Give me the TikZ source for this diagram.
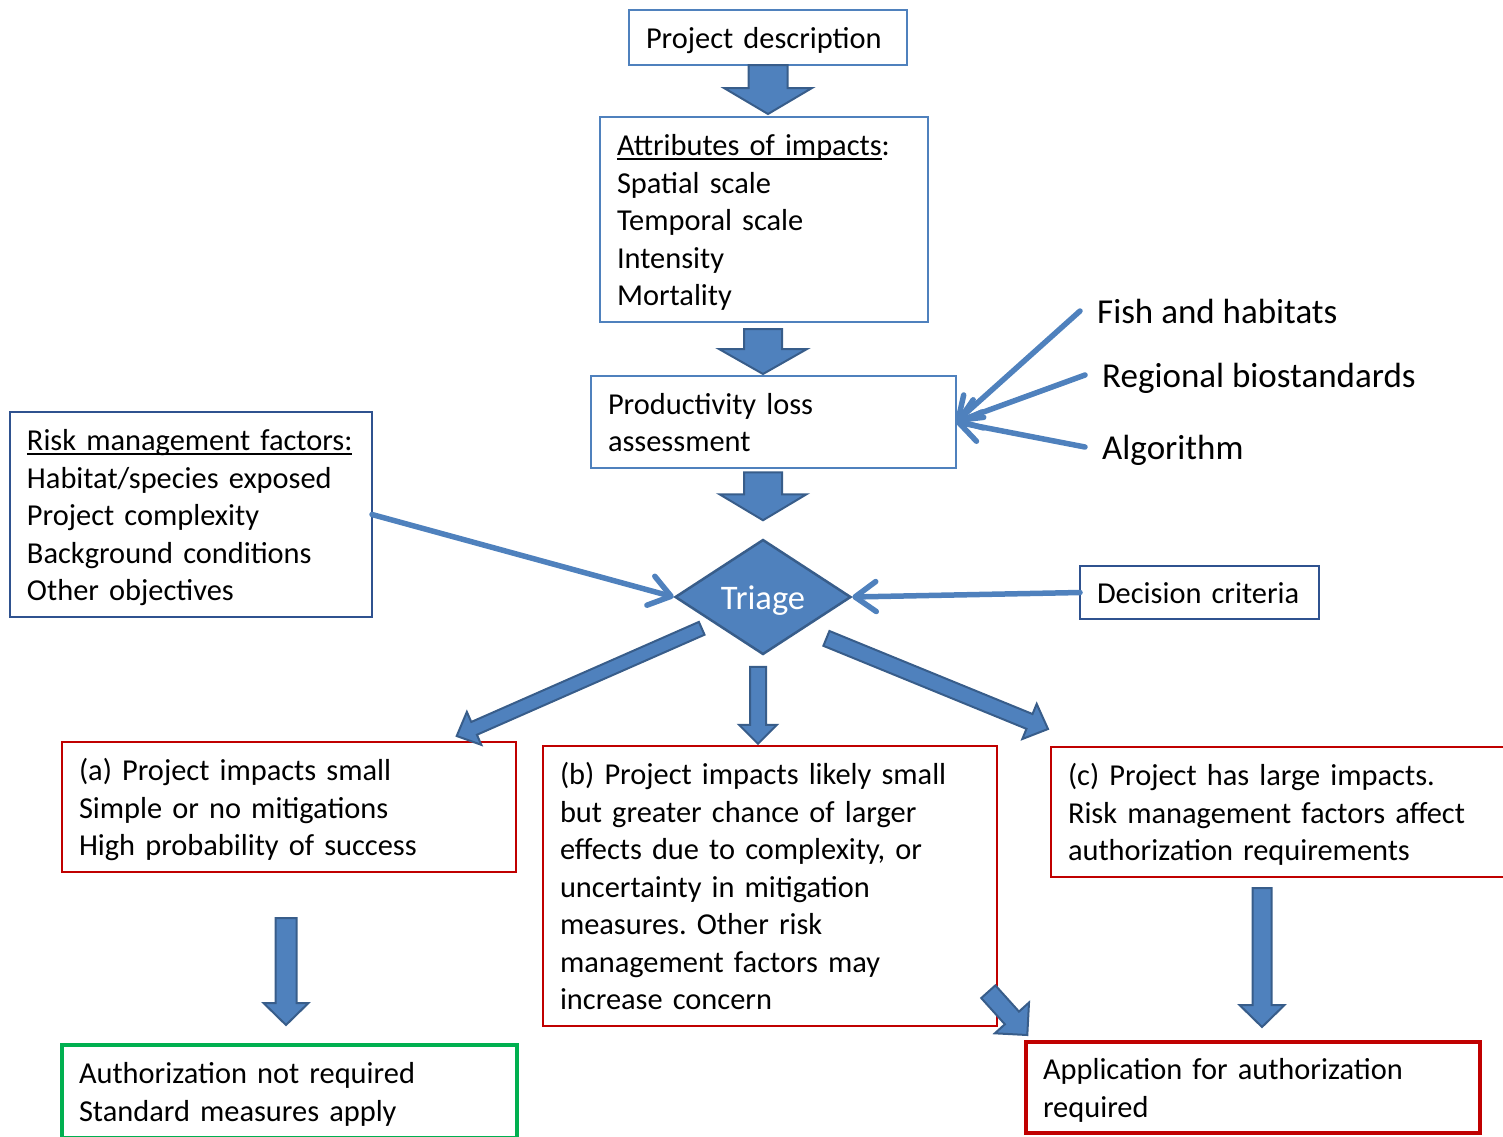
\documentclass[tikz,border=0pt]{standalone}
\usepackage{fontspec}
\setmainfont{Carlito}
\frenchspacing
\usetikzlibrary{shapes.geometric,arrows.meta,calc}
\definecolor{boxblue}{HTML}{4F81BD}
\definecolor{navyblue}{HTML}{2F528F}
\definecolor{arrfill}{HTML}{4F81BD}
\definecolor{arrdraw}{HTML}{385D8A}
\definecolor{boxred}{HTML}{C00000}
\definecolor{boxgreen}{HTML}{00B050}
\newcommand\myul[1]{\setbox0\hbox{#1}\rlap{\rule[-4pt]{\wd0}{1.3pt}}\box0}
\newcommand\ts{\rule{0pt}{30pt}}
\newcommand\bs{\rule[-8pt]{0pt}{8pt}}
\newcommand\fatarrow[5]{%
  \coordinate (fah) at ($(#2)!#5!(#1)$);
  \filldraw[fatarr] ($(#1)!#3!90:(#2)$) -- ($(fah)!#3!-90:(#1)$) -- ($(fah)!#4!-90:(#1)$) -- (#2)
    -- ($(fah)!#4!90:(#1)$) -- ($(fah)!#3!90:(#1)$) -- ($(#1)!#3!-90:(#2)$) -- cycle;}
\tikzset{
  box/.style={anchor=north west, align=left, inner xsep=17pt, inner ysep=0pt, outer sep=0pt,
    font=\fontsize{30.4}{37.5}\selectfont, line width=2pt},
  bluebox/.style={box, draw=boxblue},
  navybox/.style={box, draw=navyblue},
  redbox/.style={box, draw=boxred},
  fatarr/.style={fill=arrfill, draw=arrdraw, line width=2pt, line join=miter},
  thinarr/.style={draw=boxblue, line width=5.5pt, line cap=round,
    -{Straight Barb[length=21pt,width=30pt,round]}},
  lbl/.style={anchor=west, inner xsep=17pt, inner ysep=0pt, text height=33pt, text depth=8pt,
    font=\fontsize{35}{40}\selectfont},
  triage/.style={diamond, aspect=1.5, inner sep=0pt, minimum width=176pt, minimum height=115pt,
    text height=33pt, text depth=8pt,
    fill=arrfill, draw=arrdraw, line width=2.5pt, text=white, font=\fontsize{34.5}{40}\selectfont}
}
\begin{document}
\begin{tikzpicture}[x=1pt,y=-1pt]
\useasboundingbox (0,0) rectangle (1503,1136);
% boxes
\node[bluebox, minimum width=278pt, minimum height=55pt, text width=244pt] (pd) at (629,10) {\ts Project description\bs};
\node[bluebox, minimum width=328pt, minimum height=205pt, text width=294pt] (attr) at (600,117)
  {\ts\myul{Attributes of impacts}:\\Spatial scale\\Temporal scale\\Intensity\\Mortality\bs};
\node[bluebox, minimum width=365pt, minimum height=92pt, text width=331pt] (prod) at (591,376)
  {\ts Productivity loss\\assessment\bs};
\node[navybox, minimum width=362pt, minimum height=205pt, text width=328pt] (risk) at (10,412)
  {\ts\myul{Risk management factors:}\\Habitat/species exposed\\Project complexity\\Background conditions\\Other objectives\bs};
\node[navybox, minimum width=239pt, minimum height=53pt, text width=205pt] (dec) at (1080,566) {\ts Decision criteria\bs};
\node[triage] (tri) at (763,597) {Triage};
\node[redbox, minimum width=454pt, minimum height=130pt, text width=420pt] (a) at (62,742)
  {\ts(a) Project impacts small\\Simple or no mitigations\\High probability of success\bs};
\node[redbox, minimum width=454pt, minimum height=280pt, text width=420pt] (b) at (543,746)
  {\ts(b) Project impacts likely small\\but greater chance of larger\\effects due to complexity, or\\uncertainty in mitigation\\measures. Other risk\\management factors may\\increase concern\bs};
\node[redbox, minimum width=460pt, minimum height=130pt, text width=426pt] (c) at (1051,747)
  {\ts(c) Project has large impacts.\\Risk management factors affect\\authorization requirements\bs};
\node[box, draw=boxgreen, line width=3.5pt, minimum width=455pt, minimum height=93pt, text width=421pt] (auth) at (62,1045)
  {\ts Authorization not required\\Standard measures apply\bs};
\node[box, draw=boxred, line width=4pt, minimum width=454pt, minimum height=91pt, text width=420pt] (app) at (1026,1042)
  {\ts Application for authorization\\required\bs};
% labels
\node[lbl] (fish) at (1080,311) {Fish and habitats};
\node[lbl] (reg) at (1085,375) {Regional biostandards};
\node[lbl] (alg) at (1085,447) {Algorithm};
% thin arrows
\draw[thinarr] (fish.west) -- (prod.east);
\draw[thinarr] (reg.west) -- (prod.east);
\draw[thinarr] (alg.west) -- (prod.east);
\draw[thinarr] (risk.east) -- (tri.west);
\draw[thinarr] (dec.west) -- (tri.east);
% fat arrows
\coordinate (a1s) at (pd.south); \coordinate (a1e) at ($(pd.south)+(0,49)$);
\fatarrow{a1s}{a1e}{19.5pt}{44pt}{26pt}
\coordinate (a2s) at ($(attr.south)+(-1,7)$); \coordinate (a2e) at ($(attr.south)+(-1,52)$);
\fatarrow{a2s}{a2e}{19pt}{44pt}{25pt}
\coordinate (a3s) at ($(tri.north)+(0,-66)$); \coordinate (a3e) at ($(tri.north)+(0,-18)$);
\fatarrow{a3s}{a3e}{19pt}{43.5pt}{26pt}
\coordinate (a4s) at ($(tri.south)+(-5,11)$); \coordinate (a4e) at ($(tri.south)+(-5,88)$);
\fatarrow{a4s}{a4e}{8pt}{19pt}{19pt}
\coordinate (a5s) at ($(tri.center)+(63.4,41.4)$); \coordinate (a5e) at ($(c.north west)+(-3,-18)$);
\fatarrow{a5s}{a5e}{8pt}{19pt}{20pt}
\coordinate (a6s) at ($(tri.center)+(-61.3,31.3)$); \coordinate (a6e) at ($(a.north east)+(-59.3,-6)$);
\fatarrow{a6s}{a6e}{7pt}{18pt}{19pt}
\coordinate (a7s) at ($(a.south)+(-3,46)$); \coordinate (a7e) at ($(auth.north)+(-3.5,-20)$);
\fatarrow{a7s}{a7e}{10.5pt}{22.5pt}{22pt}
\coordinate (a8s) at ($(c.south west)+(211,11)$); \coordinate (a8e) at ($(app.north west)+(236,-15)$);
\fatarrow{a8s}{a8e}{9.5pt}{22.5pt}{22pt}
\coordinate (a9s) at ($(b.south east)+(-8.7,-34.3)$); \coordinate (a9e) at ($(app.north west)+(1.3,-7)$);
\fatarrow{a9s}{a9e}{9.5pt}{23pt}{23pt}
\end{tikzpicture}
\end{document}
